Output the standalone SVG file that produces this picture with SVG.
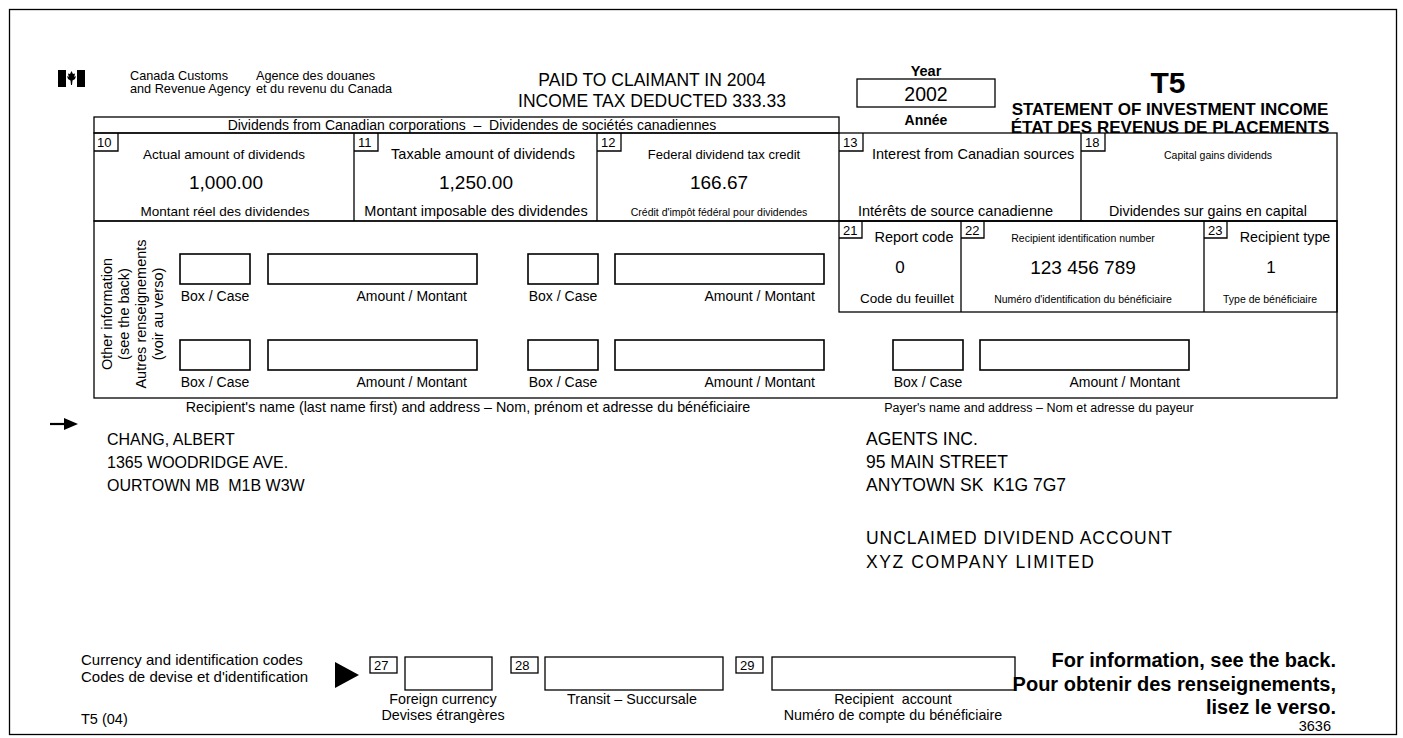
<svg xmlns="http://www.w3.org/2000/svg" width="1403" height="738" viewBox="0 0 1403 738">
<style>
text{font-family:"Liberation Sans",Arial,Helvetica,sans-serif;fill:#000}
.ln{fill:none;stroke:#000;stroke-width:1.3}
.fld{fill:#fff;stroke:#000;stroke-width:1.6}
.s10{font-size:10.5px}
.s13{font-size:13px}
.s14{font-size:14px}
.s16{font-size:16px}
.v{font-size:19px}
.b{font-weight:bold}
.m{text-anchor:middle}
.e{text-anchor:end}
</style>
<rect x="0" y="0" width="1403" height="738" fill="#fff"/>
<rect id="frame" x="9.5" y="9.5" width="1387" height="725" class="ln"/>

<g id="logo">
<rect x="58" y="70" width="8" height="17" fill="#000"/>
<rect x="77" y="70" width="8" height="17" fill="#000"/>
<path d="M71.5 71 L73 74 L75 73.5 L74.3 77 L76 76 L75 79 L72.5 80.5 L72 85 L71 85 L70.5 80.5 L68 79 L67 76 L68.7 77 L68 73.5 L70 74 Z" fill="#000"/>
<text x="130" y="80" style="font-size:12.7px">Canada Customs</text>
<text x="130" y="93" style="font-size:12.7px">and Revenue Agency</text>
<text x="256" y="80" style="font-size:12.7px">Agence des douanes</text>
<text x="256" y="93" style="font-size:12.7px">et du revenu du Canada</text>
</g>

<g id="paid">
<text x="652" y="86" class="m" style="font-size:17.5px">PAID TO CLAIMANT IN 2004</text>
<text x="652" y="107" class="m" style="font-size:17.5px">INCOME TAX DEDUCTED 333.33</text>
</g>

<g id="year">
<text x="926" y="76" class="b m" style="font-size:14.5px">Year</text>
<rect x="857" y="79" width="138" height="28" class="ln"/>
<text x="926" y="101" class="m" style="font-size:19.5px">2002</text>
<text x="926" y="125" class="b m" style="font-size:14px">Année</text>
</g>

<g id="title">
<text x="1168" y="93" class="b m" style="font-size:30px">T5</text>
<text x="1170" y="115" class="b m" style="font-size:17px">STATEMENT OF INVESTMENT INCOME</text>
<text x="1170" y="132.5" class="b m" style="font-size:17px">ÉTAT DES REVENUS DE PLACEMENTS</text>
</g>

<g id="dividends-header">
<rect x="94" y="117" width="745" height="16" class="ln"/>
<text x="472" y="130" class="m" style="font-size:14px" xml:space="preserve">Dividends from Canadian corporations  –  Dividendes de sociétés canadiennes</text>
</g>

<g id="main-row">
<rect x="94" y="133" width="1243" height="88" class="ln"/>
<path d="M354 133V221M597 133V221M839 133V221M1081 133V221" class="ln"/>
</g>

<g id="box10">
<path d="M94 151H118V133" class="ln"/>
<text x="97" y="147" class="s13">10</text>
<text x="224" y="159" class="m" style="font-size:13.5px">Actual amount of dividends</text>
<text x="226" y="189" class="v m">1,000.00</text>
<text x="225" y="216" class="m" style="font-size:13.5px">Montant réel des dividendes</text>
</g>
<g id="box11">
<path d="M354 151H378V133" class="ln"/>
<text x="358" y="147" class="s13">11</text>
<text x="483" y="159" class="m" style="font-size:14.5px">Taxable amount of dividends</text>
<text x="476" y="189" class="v m">1,250.00</text>
<text x="476" y="216" class="m" style="font-size:14.5px">Montant imposable des dividendes</text>
</g>
<g id="box12">
<path d="M597 151H621V133" class="ln"/>
<text x="601" y="147" class="s13">12</text>
<text x="724" y="159" class="m" style="font-size:13px">Federal dividend tax credit</text>
<text x="719" y="189" class="v m">166.67</text>
<text x="719" y="216" class="s10 m">Crédit d'impôt fédéral pour dividendes</text>
</g>
<g id="box13">
<path d="M839 151H863V133" class="ln"/>
<text x="843" y="147" class="s13">13</text>
<text x="872" y="159" style="font-size:14.5px">Interest from Canadian sources</text>
<text x="858" y="216" style="font-size:14.5px">Intérêts de source canadienne</text>
</g>
<g id="box18">
<path d="M1081 151H1105V133" class="ln"/>
<text x="1085" y="147" class="s13">18</text>
<text x="1218" y="159" class="s10 m">Capital gains dividends</text>
<text x="1208" y="216" class="m" style="font-size:14.3px">Dividendes sur gains en capital</text>
</g>

<g id="other-info">
<rect x="94" y="221" width="1243" height="177" class="ln"/>
<g transform="translate(0,314) rotate(-90)" style="font-size:14.5px">
<text x="0" y="112" class="m">Other information</text>
<text x="0" y="129" class="m">(see the back)</text>
<text x="0" y="146" class="m">Autres renseignements</text>
<text x="0" y="163" class="m">(voir au verso)</text>
</g>
<rect x="180" y="254" width="70" height="30" class="fld"/>
<rect x="268" y="254" width="209" height="30" class="fld"/>
<rect x="528" y="254" width="70" height="30" class="fld"/>
<rect x="615" y="254" width="209" height="30" class="fld"/>
<text x="215" y="301" class="s14 m">Box / Case</text>
<text x="467" y="301" class="s14 e">Amount / Montant</text>
<text x="563" y="301" class="s14 m">Box / Case</text>
<text x="815" y="301" class="s14 e">Amount / Montant</text>
<rect x="180" y="340" width="70" height="30" class="fld"/>
<rect x="268" y="340" width="209" height="30" class="fld"/>
<rect x="528" y="340" width="70" height="30" class="fld"/>
<rect x="615" y="340" width="209" height="30" class="fld"/>
<rect x="893" y="340" width="70" height="30" class="fld"/>
<rect x="980" y="340" width="209" height="30" class="fld"/>
<text x="215" y="387" class="s14 m">Box / Case</text>
<text x="467" y="387" class="s14 e">Amount / Montant</text>
<text x="563" y="387" class="s14 m">Box / Case</text>
<text x="815" y="387" class="s14 e">Amount / Montant</text>
<text x="928" y="387" class="s14 m">Box / Case</text>
<text x="1180" y="387" class="s14 e">Amount / Montant</text>
</g>

<g id="codes-row">
<rect x="839" y="221" width="498" height="91" class="ln"/>
<path d="M961 221V312M1204 221V312" class="ln"/>
</g>
<g id="box21">
<path d="M839 238H862V221" class="ln"/>
<text x="843" y="235" class="s13">21</text>
<text x="914" y="242" class="m" style="font-size:14.5px">Report code</text>
<text x="900" y="273" class="m" style="font-size:17px">0</text>
<text x="907" y="303" class="m" style="font-size:13.5px">Code du feuillet</text>
</g>
<g id="box22">
<path d="M961 238H984V221" class="ln"/>
<text x="965" y="235" class="s13">22</text>
<text x="1083" y="242" class="s10 m">Recipient identification number</text>
<text x="1083" y="274" class="v m">123 456 789</text>
<text x="1083" y="303" class="s10 m">Numéro d'identification du bénéficiaire</text>
</g>
<g id="box23">
<path d="M1204 238H1227V221" class="ln"/>
<text x="1208" y="235" class="s13">23</text>
<text x="1285" y="242" class="m" style="font-size:14.3px">Recipient type</text>
<text x="1271" y="273" class="m" style="font-size:17px">1</text>
<text x="1270" y="303" class="s10 m">Type de bénéficiaire</text>
</g>

<g id="recipient">
<text x="468" y="412" class="m" style="font-size:14.3px">Recipient's name (last name first) and address – Nom, prénom et adresse du bénéficiaire</text>
<path d="M50 424H66" stroke="#000" stroke-width="2.2" fill="none"/>
<path d="M64 418L78 424L64 430Z" fill="#000"/>
<text x="107" y="445" class="s16">CHANG, ALBERT</text>
<text x="107" y="468" class="s16">1365 WOODRIDGE AVE.</text>
<text x="107" y="491" class="s16" xml:space="preserve">OURTOWN MB  M1B W3W</text>
</g>

<g id="payer">
<text x="1039" y="412" class="m" style="font-size:12.5px">Payer's name and address – Nom et adresse du payeur</text>
<g style="font-size:17.5px">
<text x="866" y="445">AGENTS INC.</text>
<text x="866" y="468">95 MAIN STREET</text>
<text x="866" y="491" xml:space="preserve">ANYTOWN SK  K1G 7G7</text>
<text x="866" y="544" textLength="306">UNCLAIMED DIVIDEND ACCOUNT</text>
<text x="866" y="568" textLength="228">XYZ COMPANY LIMITED</text>
</g>
</g>

<g id="currency">
<text x="81" y="665" style="font-size:15px">Currency and identification codes</text>
<text x="81" y="682" style="font-size:15px">Codes de devise et d'identification</text>
<path d="M335 662L359 675L335 688Z" fill="#000"/>
</g>
<g id="box27">
<rect x="370" y="657" width="27" height="16" class="ln"/>
<text x="374" y="670" class="s13">27</text>
<rect x="405" y="657" width="87" height="33" class="ln"/>
<text x="443" y="704" class="m" style="font-size:14.3px">Foreign currency</text>
<text x="443" y="720" class="m" style="font-size:14.3px">Devises étrangères</text>
</g>
<g id="box28">
<rect x="511" y="657" width="27" height="16" class="ln"/>
<text x="515" y="670" class="s13">28</text>
<rect x="545" y="657" width="178" height="33" class="ln"/>
<text x="632" y="704" class="m" style="font-size:14.3px">Transit – Succursale</text>
</g>
<g id="box29">
<rect x="736" y="657" width="27" height="16" class="ln"/>
<text x="740" y="670" class="s13">29</text>
<rect x="772" y="657" width="243" height="33" class="ln"/>
<text x="893" y="704" class="m" style="font-size:14.3px" xml:space="preserve">Recipient  account</text>
<text x="893" y="720" class="m" style="font-size:14.3px">Numéro de compte du bénéficiaire</text>
</g>

<g id="info">
<text x="1336" y="667" class="b e" style="font-size:20px">For information, see the back.</text>
<text x="1336" y="691" class="b e" style="font-size:20px">Pour obtenir des renseignements,</text>
<text x="1336" y="714" class="b e" style="font-size:20px">lisez le verso.</text>
<text x="1331" y="731" class="e" style="font-size:14.5px">3636</text>
<text x="81" y="724" style="font-size:14.5px">T5 (04)</text>
</g>
</svg>
